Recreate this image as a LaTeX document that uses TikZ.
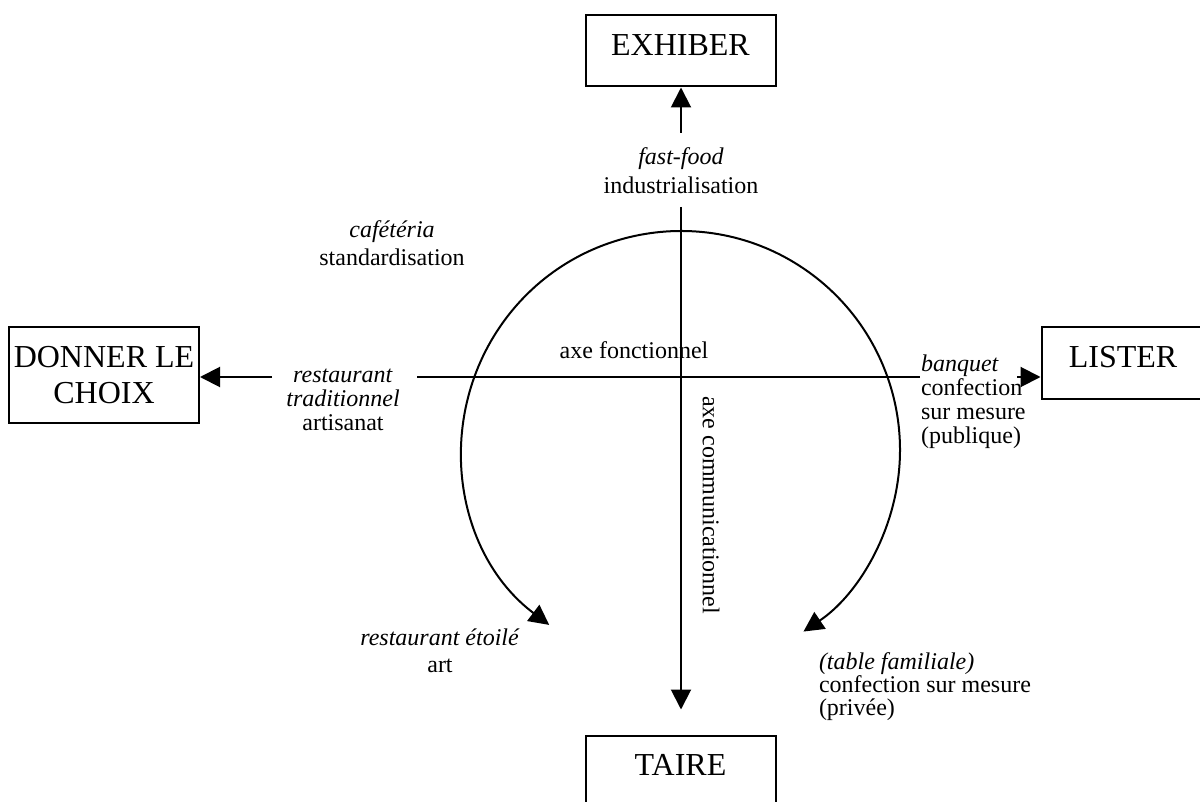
\documentclass[tikz,border=0pt]{standalone}
\usepackage{fontspec}
\setmainfont{Liberation Serif}
\usetikzlibrary{arrows.meta}

\begin{document}
\begin{tikzpicture}[
  x=0.5pt,y=-0.5pt,>={Triangle[length=10pt,width=10pt]},
  line width=1pt,
  pole/.style={draw,inner sep=0pt,minimum width=95pt,minimum height=35.5pt,
    font=\fontsize{16}{18}\selectfont,text depth=6pt},
  lbl/.style={inner sep=0pt,align=center},
  every node/.style={font=\fontsize{12}{14.5}\selectfont}
]
  \useasboundingbox (0,0) rectangle (1200,802);

  % the four poles
  \node[pole] (exhiber) at (680.5,51) {EXHIBER};
  \node[pole,align=center,text depth=0pt,minimum height=47.5pt] (choix) at (104,375)
    {DONNER LE\\CHOIX};
  \node[pole] (lister) at (1136.5,363) {\hspace*{-13.5pt}LISTER};
  \node[pole] (taire) at (680.5,771) {TAIRE};

  % labels
  \node[lbl,anchor=north] (fastfood) at (681,147)
    {\textit{fast-food}\\industrialisation};
  \node[lbl,anchor=north,font=\fontsize{12}{14}\selectfont] (cafeteria) at (392,220)
    {\textit{cafétéria}\\standardisation};
  \node[lbl,anchor=north,font=\fontsize{12}{12}\selectfont] (trad) at (343,368)
    {\textit{restaurant}\\\textit{traditionnel}\\artisanat};
  \node[lbl,anchor=north,font=\fontsize{12}{13.5}\selectfont] (etoile) at (440,628)
    {\textit{restaurant étoilé}\\art};
  \node[lbl,anchor=north west,align=left,font=\fontsize{12}{12}\selectfont]
    (banquet) at (920,354) {\textit{banquet}\\confection\\sur mesure\\(publique)};
  \node[lbl,anchor=north west,align=left,font=\fontsize{12}{11.5}\selectfont]
    (familiale) at (818,652) {\textit{(table familiale)}\\confection sur mesure\\(privée)};
  \node[lbl,anchor=base] (fonct) at (634,358) {axe fonctionnel};
  \node[lbl,rotate=-90] (comm) at (711,505) {axe communicationnel};

  % axes
  \coordinate (h1) at (272,377);
  \coordinate (h2) at (417,377);
  \coordinate (h3) at (920,377);
  \coordinate (h4) at (1017,377);
  \coordinate (v1) at (681,133);
  \coordinate (v2) at (681,207);
  \draw[->] (h1) -- (h1 -| choix.east);
  \draw (h2) -- (h3);
  \draw[->] (h4) -- (h4 -| lister.west);
  \draw[->] (v1) -- (v1 |- exhiber.south);
  \draw[->,shorten >=12.5pt] (v2) -- (v2 |- taire.north);

  % circular arrow
  \coordinate (ctr) at (681,450);
  \draw[<->] (ctr) ++(233:109.5pt) arc[start angle=233,end angle=-56,radius=109.5pt];
\end{tikzpicture}
\end{document}
